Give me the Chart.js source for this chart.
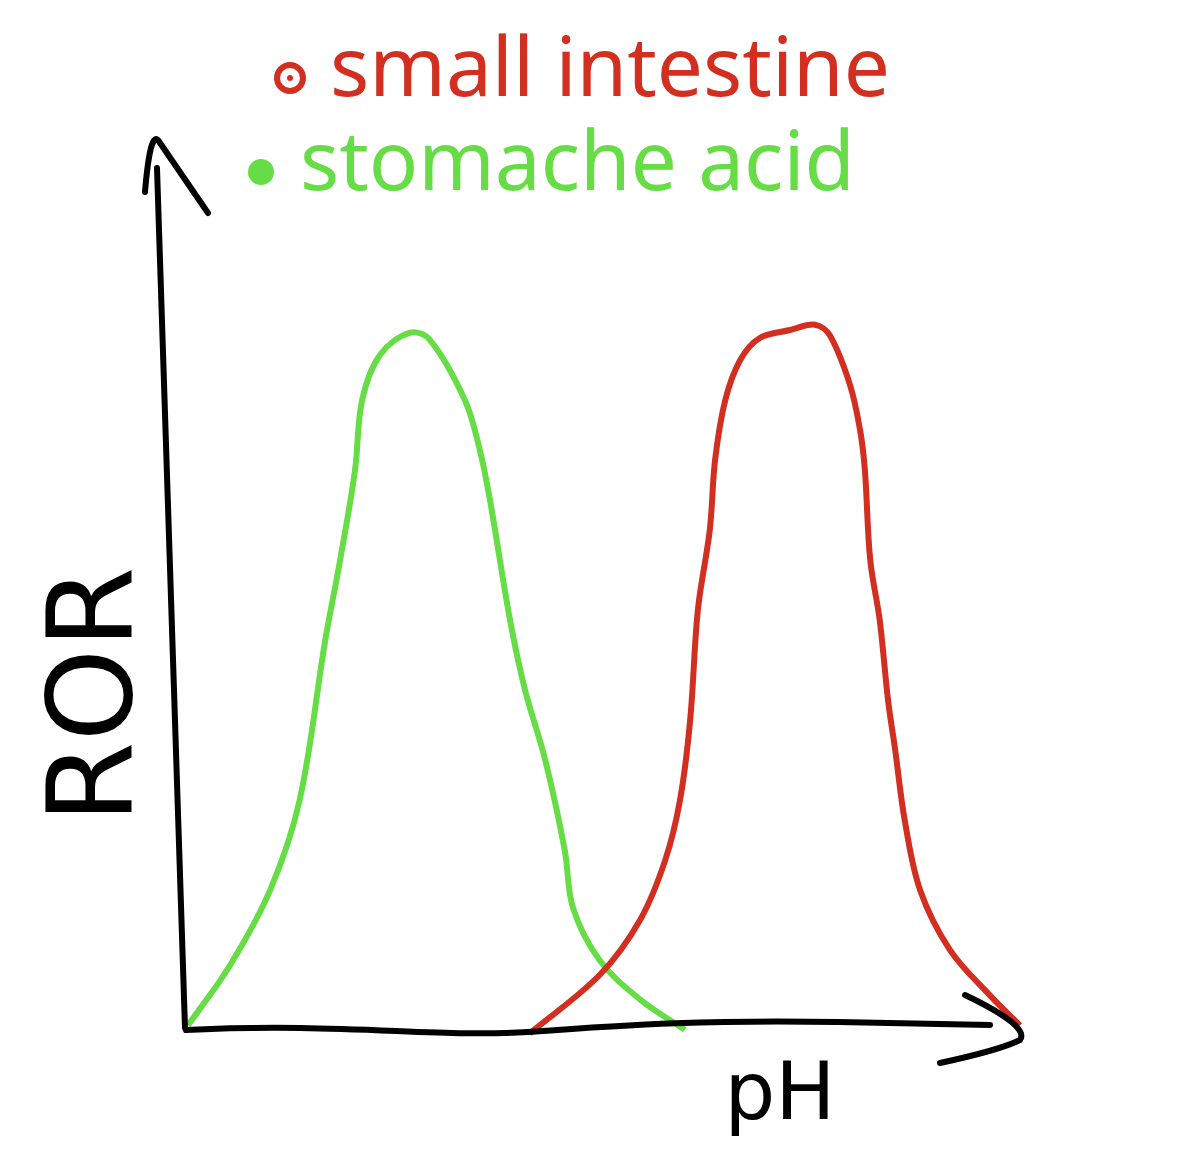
<!DOCTYPE html>
<html>
<head>
<meta charset="utf-8">
<script src="https://cdn.jsdelivr.net/npm/chart.js@4/dist/chart.umd.min.js"></script>
<style>
  html, body { margin: 0; padding: 0; background: #ffffff; }
  #wrap { width: 1182px; height: 1160px; }
</style>
</head>
<body>
<div id="wrap"><canvas id="c" width="1182" height="1160"></canvas></div>
<script>
// ---- data (x = pH, y = rate of reaction, arbitrary 0-100) ----
const seriesLabels = ["small intestine", "stomache acid"];
const xAxisTitle = "pH";
const yAxisTitle = "ROR";

const stomachX = [0, 0.71, 1.38, 1.88, 2.31, 2.56, 2.81, 2.93, 3.23, 3.74, 4.07, 4.66, 4.91, 5.08, 5.42, 5.67, 6.01, 6.34, 6.48, 6.93, 7.61, 8.36];
const stomachY = [0.3, 7.1, 15.5, 25.7, 43.7, 52.7, 62.8, 70.7, 75.8, 78.3, 77.5, 70.7, 65.1, 59.5, 45.9, 38.1, 30.2, 20.0, 13.5, 7.6, 3.2, -0.2];

const intestineX = [5.75, 6.93, 7.61, 8.03, 8.28, 8.45, 8.58, 8.78, 8.87, 9.04, 9.29, 9.62, 10.13, 10.55, 10.80, 11.14, 11.31, 11.39, 11.48, 11.64, 11.78, 11.90, 12.06, 12.32, 12.82, 13.49, 14.0];
const intestineY = [-0.6, 6.0, 12.2, 18.9, 25.7, 34.7, 47.1, 56.1, 64.0, 70.7, 75.2, 77.7, 78.6, 79.2, 78.0, 72.4, 67.3, 62.8, 52.7, 45.9, 36.9, 31.3, 23.4, 15.5, 8.8, 3.7, 0.3];

const RED = "#d22f20";
const GREEN = "#66dd44";
const INK = "#000000";

function pts(xs, ys) { return xs.map((x, i) => ({ x: x, y: ys[i] })); }

// Hand-drawn style axes, arrows, axis titles and legend
const sketchPlugin = {
  id: "sketch",
  afterDraw(chart) {
    const ctx = chart.ctx;
    const xs = chart.scales.x, ys = chart.scales.y;
    const x0 = xs.getPixelForValue(0), y0 = ys.getPixelForValue(0);
    const xEnd = xs.getPixelForValue(14);
    const yTop = ys.getPixelForValue(100);
    ctx.save();
    ctx.strokeStyle = INK;
    ctx.lineWidth = 6;
    ctx.lineCap = "round";
    ctx.lineJoin = "round";
    // y axis (slightly slanted like the sketch)
    ctx.beginPath();
    ctx.moveTo(x0 - 31, yTop + 28);
    ctx.quadraticCurveTo(x0 - 14, yTop + 500, x0 - 3, y0);
    ctx.stroke();
    // y arrowhead
    ctx.beginPath();
    ctx.moveTo(x0 - 43, yTop + 52);
    ctx.quadraticCurveTo(x0 - 38, yTop - 8, x0 - 30, yTop);
    ctx.lineTo(x0 + 20, yTop + 73);
    ctx.stroke();
    // x axis
    ctx.beginPath();
    ctx.moveTo(x0 - 2, y0 + 2);
    ctx.bezierCurveTo(x0 + 150, y0 - 6, x0 + 250, y0 + 10, x0 + 340, y0 + 4);
    ctx.bezierCurveTo(x0 + 450, y0 - 4, x0 + 520, y0 - 8, x0 + 650, y0 - 6);
    ctx.lineTo(xEnd - 30, y0 - 3);
    ctx.stroke();
    // x arrowhead
    ctx.beginPath();
    ctx.moveTo(xEnd - 55, y0 - 33);
    ctx.quadraticCurveTo(xEnd + 10, y0 - 2, xEnd, y0 + 12);
    ctx.quadraticCurveTo(xEnd - 20, y0 + 22, xEnd - 80, y0 + 35);
    ctx.stroke();

    // axis titles
    ctx.fillStyle = INK;
    ctx.textAlign = "center";
    ctx.textBaseline = "middle";
    ctx.font = "400 118px 'DejaVu Sans', sans-serif";
    ctx.save();
    ctx.translate(x0 - 88, ys.getPixelForValue(37.5));
    ctx.rotate(-Math.PI / 2);
    ctx.fillText(yAxisTitle, 0, 0);
    ctx.restore();
    ctx.font = "400 80px 'DejaVu Sans', sans-serif";
    ctx.fillText(xAxisTitle, xs.getPixelForValue(9.96), y0 + 70);

    // legend (two rows, as in the sketch)
    const ds = chart.data.datasets;
    const rows = [
      { d: ds[0], cx: 290, cy: 78, tx: 330, w: 560, ring: true },
      { d: ds[1], cx: 261, cy: 172, tx: 300, w: 555, ring: false }
    ];
    rows.forEach(r => {
      ctx.fillStyle = r.d.borderColor;
      ctx.strokeStyle = r.d.borderColor;
      ctx.beginPath();
      ctx.arc(r.cx, r.cy, 13, 0, Math.PI * 2);
      if (r.ring) { ctx.lineWidth = 6; ctx.stroke(); ctx.beginPath(); ctx.arc(r.cx, r.cy, 3, 0, Math.PI*2); ctx.fill(); }
      else ctx.fill();
      let size = 80;
      ctx.font = size + "px 'Noto Sans', sans-serif";
      const mw = ctx.measureText(r.d.label).width;
      size = size * r.w / mw;
      ctx.font = size + "px 'Noto Sans', sans-serif";
      ctx.textAlign = "left";
      ctx.textBaseline = "alphabetic";
      ctx.fillText(r.d.label, r.tx, r.cy + 18);
    });
    ctx.restore();
  }
};

new Chart(document.getElementById("c"), {
  type: "scatter",
  data: {
    datasets: [
      {
        label: seriesLabels[0],
        data: pts(intestineX, intestineY),
        showLine: true,
        borderColor: RED,
        backgroundColor: RED,
        borderWidth: 6,
        pointRadius: 0,
        tension: 0.35,
        clip: false
      },
      {
        label: seriesLabels[1],
        data: pts(stomachX, stomachY),
        showLine: true,
        borderColor: GREEN,
        backgroundColor: GREEN,
        borderWidth: 6,
        pointRadius: 0,
        tension: 0.35,
        clip: false
      }
    ]
  },
  options: {
    responsive: false,
    animation: false,
    layout: { padding: { left: 188, right: 162, top: 140, bottom: 132 } },
    scales: {
      x: { type: "linear", min: 0, max: 14, display: false },
      y: { type: "linear", min: 0, max: 100, display: false }
    },
    plugins: {
      legend: { display: false },
      tooltip: { enabled: false }
    }
  },
  plugins: [sketchPlugin]
});
</script>
</body>
</html>
